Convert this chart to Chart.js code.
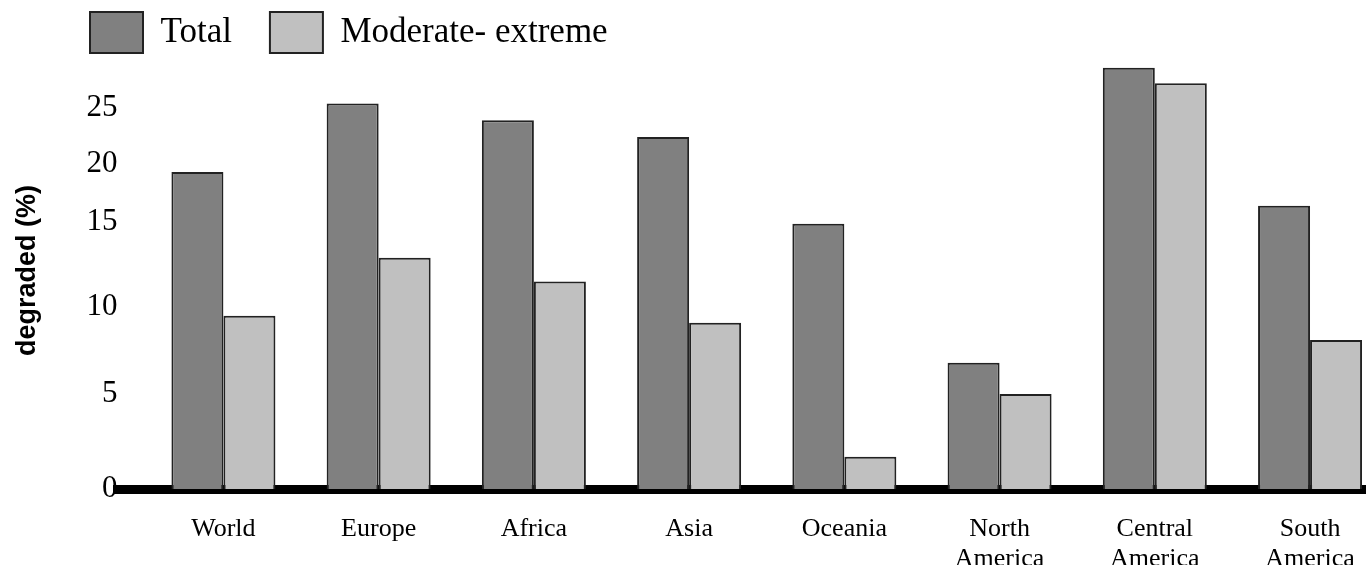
<!DOCTYPE html>
<html>
<head>
<meta charset="utf-8">
<title>Degraded land by region</title>
<script src="https://cdn.jsdelivr.net/npm/chart.js@4.4.1/dist/chart.umd.min.js"></script>
<style>
  html, body { margin: 0; padding: 0; background: #fff; }
  #wrap { width: 1369px; height: 565px; }
</style>
</head>
<body>
<div id="wrap"><canvas id="degradedChart"></canvas></div>
<script>
// regions along the x axis (two-word names are split over two lines)
const regions = ["World", "Europe", "Africa", "Asia", "Oceania",
                 ["North", "America"], ["Central", "America"], ["South", "America"]];
// share of land that is degraded (%)
const totalDegraded   = [19.3, 25.4, 23.9, 22.4, 14.9, 6.8, 28.6, 16.4];
const moderateExtreme = [9.5, 12.9, 11.5, 9.1, 1.7, 5.0, 27.2, 8.1];
// tick labels on the y axis
const yTicks = [0, 5, 10, 15, 20, 25];

// the original y axis is not evenly spaced: every 5 % band has its own height
const bandEdges   = [0, 5, 10, 15, 20, 25, 30];
const bandWeights = [95, 87, 85, 58, 56, 56];

const serif  = "'Liberation Serif', 'Times New Roman', serif";
const narrow = "'Liberation Sans Narrow', 'Liberation Sans', Arial, sans-serif";

// linear scale that maps values band by band
class BandedScale extends Chart.LinearScale {
    valueToDecimal(value) {
        const total = bandWeights.reduce((a, b) => a + b, 0);
        let acc = 0;
        for (let i = 0; i < bandWeights.length; i++) {
            const lo = bandEdges[i], hi = bandEdges[i + 1];
            if (value <= hi || i === bandWeights.length - 1) {
                return (acc + (value - lo) / (hi - lo) * bandWeights[i]) / total;
            }
            acc += bandWeights[i];
        }
        return 0;
    }
    decimalToValue(dec) {
        const total = bandWeights.reduce((a, b) => a + b, 0);
        let target = dec * total;
        for (let i = 0; i < bandWeights.length; i++) {
            if (target <= bandWeights[i] || i === bandWeights.length - 1) {
                return bandEdges[i] + target / bandWeights[i] * (bandEdges[i + 1] - bandEdges[i]);
            }
            target -= bandWeights[i];
        }
        return 0;
    }
    getPixelForValue(value) {
        if (value === null || isNaN(value)) return NaN;
        return this.getPixelForDecimal(this.valueToDecimal(value));
    }
    getValueForPixel(pixel) {
        return this.decimalToValue(this.getDecimalForPixel(pixel));
    }
}
BandedScale.id = "banded";
BandedScale.defaults = Chart.LinearScale.defaults;
Chart.register(BandedScale);

// legend sits further right and higher than Chart.js would put it;
// the bottom is pushed down a little so the clip box keeps the whole swatch
const legendNudge = {
    id: "legendNudge",
    afterLayout(chart) {
        const lg = chart.legend;
        if (!lg) return;
        lg.left += 44;
        lg.top -= 26;
        lg.bottom += 8;
    }
};

Chart.defaults.font.family = serif;
Chart.defaults.color = "#000";

const ctx = document.getElementById("degradedChart").getContext("2d");
new Chart(ctx, {
    type: "bar",
    data: {
        datasets: [{
            label: "Total",
            data: totalDegraded.map((v, i) => ({ x: i, y: v })),
            backgroundColor: "#808080",
            borderColor: "#222",
            borderWidth: 2
        }, {
            label: "Moderate- extreme",
            data: moderateExtreme.map((v, i) => ({ x: i, y: v })),
            backgroundColor: "#c0c0c0",
            borderColor: "#222",
            borderWidth: 2
        }]
    },
    options: {
        responsive: true,
        maintainAspectRatio: false,
        animation: false,
        layout: { padding: { left: 8, right: 4, top: 0, bottom: 0 } },
        datasets: { bar: { categoryPercentage: 0.67, barPercentage: 1.0 } },
        plugins: {
            tooltip: { enabled: false },
            legend: {
                position: "top",
                align: "start",
                maxHeight: 52,
                labels: {
                    boxWidth: 53,
                    boxHeight: 41,
                    padding: 38,
                    color: "#000",
                    font: { family: serif, size: 35 }
                }
            }
        },
        scales: {
            x: {
                type: "linear",
                bounds: "data",
                offset: false,
                min: -0.683,
                max: 7.354,
                // one tick per region, at its index
                afterBuildTicks: (axis) => {
                    axis.ticks = regions.map((r, i) => ({ value: i }));
                },
                afterFit: (scale) => {
                    scale.height = 76;
                    scale.paddingLeft = 0;
                    scale.paddingRight = 0;
                },
                grid: { display: false, offset: false },
                border: { display: true, color: "#000", width: 9 },
                ticks: {
                    autoSkip: false,
                    maxRotation: 0,
                    padding: 17,
                    color: "#000",
                    font: { family: serif, size: 26, lineHeight: "30px" },
                    callback: (v) => regions[v]
                }
            },
            y: {
                type: "banded",
                min: 0,
                max: 30,
                afterBuildTicks: (axis) => {
                    axis.ticks = yTicks.map((v) => ({ value: v }));
                },
                grid: { display: false, drawTicks: false },
                border: { display: false },
                ticks: {
                    padding: 0,
                    color: "#000",
                    font: { family: serif, size: 31 }
                },
                title: {
                    display: true,
                    text: "degraded (%)",
                    color: "#000",
                    font: { family: narrow, size: 27, weight: "bold" },
                    padding: { top: 3, bottom: 43 }
                }
            }
        }
    },
    plugins: [legendNudge]
});
</script>
</body>
</html>
